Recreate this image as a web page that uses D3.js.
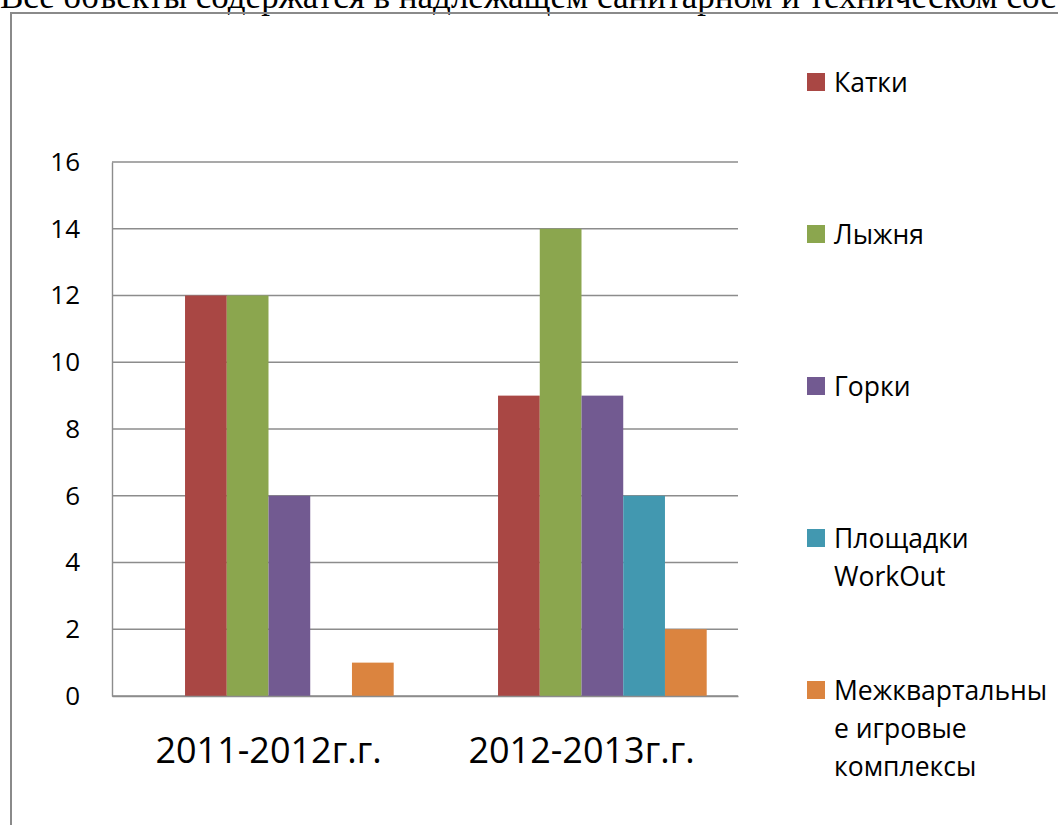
<!DOCTYPE html>
<html>
<head>
<meta charset="utf-8">
<script src="https://cdnjs.cloudflare.com/ajax/libs/d3/7.8.5/d3.min.js"></script>
<style>
  body { margin: 0; background: #fff; }
  svg { display: block; }
</style>
</head>
<body>
<script>
// периоды и значения
const periods = ['2011-2012г.г.', '2012-2013г.г.'];
const seriesNames = ['Катки', 'Лыжня', 'Горки', 'Площадки WorkOut', 'Межквартальные игровые комплексы'];
const legendLines = [['Катки'], ['Лыжня'], ['Горки'], ['Площадки', 'WorkOut'], ['Межквартальны', 'е игровые', 'комплексы']];
const katki = [12, 9];
const lyzhnya = [12, 14];
const gorki = [6, 9];
const workout = [0, 6];
const kompleksy = [1, 2];
const yTicks = [0, 2, 4, 6, 8, 10, 12, 14, 16];
// в исходной диаграмме первый ряд пустой, он занимает место в группе
const slots = ['', ...seriesNames];

const colors = ['#a94744', '#8ba64e', '#725a91', '#4298b0', '#db843f'];
const values = [katki, lyzhnya, gorki, workout, kompleksy];

const W = 1058, H = 825;
const margin = { top: 162, left: 112, right: 320, bottom: 129 };
const width = W - margin.left - margin.right;
const height = H - margin.top - margin.bottom;

const svg = d3.select('body').append('svg')
	.attr('width', W)
	.attr('height', H);

svg.append('rect').attr('width', W).attr('height', H).attr('fill', '#fff');

// текст над рамкой (в оригинале обрезан сверху)
svg.append('text')
	.attr('x', 0)
	.attr('y', 8)
	.style('font-family', '"Liberation Serif", "Times New Roman", serif')
	.style('font-size', '35px')
	.attr('fill', '#000')
	.text('Все объекты содержатся в надлежащем санитарном и техническом состоянии.');

// рамка
svg.append('rect')
	.attr('x', 11)
	.attr('y', 13)
	.attr('width', W)
	.attr('height', H)
	.attr('fill', 'none')
	.attr('stroke', '#8a8a8a')
	.attr('stroke-width', 2);

const g = svg.append('g')
	.attr('transform', 'translate(' + margin.left + ',' + margin.top + ')');

const x0 = d3.scaleBand().domain(periods).range([0, width]).paddingInner(0).paddingOuter(0);
const barW = x0.bandwidth() / (slots.length + 1.5);
const x1 = d3.scaleBand().domain(slots)
	.range([barW * 0.75, x0.bandwidth() - barW * 0.75]);
const y = d3.scaleLinear().domain([0, 16]).range([height, 0]);

// сетка
g.selectAll('.grid').data(yTicks).enter().append('line')
	.attr('class', 'grid')
	.attr('x1', 0).attr('x2', width)
	.attr('y1', d => y(d)).attr('y2', d => y(d))
	.attr('stroke', '#8c8c8c')
	.attr('stroke-width', 1.4);

// столбцы
seriesNames.forEach(function(name, i) {
	g.selectAll('.bar' + i).data(values[i]).enter().append('rect')
		.attr('class', 'bar' + i)
		.attr('x', (d, j) => x0(periods[j]) + x1(name))
		.attr('y', d => y(d))
		.attr('width', x1.bandwidth())
		.attr('height', d => y(0) - y(d))
		.attr('fill', colors[i]);
});

// ось Y
const yAxis = d3.axisLeft(y).tickValues(yTicks).tickSize(0).tickPadding(32);
const ya = g.append('g').call(yAxis);
ya.select('.domain').attr('stroke', '#8c8c8c').attr('stroke-width', 1.4);
ya.selectAll('text')
	.style('font-family', '"Open Sans", sans-serif')
	.style('font-size', '26px')
	.attr('fill', '#000');

// ось X
const xAxis = d3.axisBottom(x0).tickSize(0).tickPadding(41);
const xa = g.append('g').attr('transform', 'translate(0,' + height + ')').call(xAxis);
xa.select('.domain').attr('stroke', '#8c8c8c').attr('stroke-width', 1.4);
xa.selectAll('text')
	.style('font-family', '"Open Sans", sans-serif')
	.style('font-size', '36px')
	.attr('fill', '#000');

// легенда
const legend = svg.append('g').attr('transform', 'translate(807,82)');
legendLines.forEach(function(lines, i) {
	const item = legend.append('g').attr('transform', 'translate(0,' + (i * 152) + ')');
	item.append('rect')
		.attr('x', 0).attr('y', -9)
		.attr('width', 18).attr('height', 18)
		.attr('fill', colors[i]);
	item.selectAll('text').data(lines).enter().append('text')
		.attr('x', 27)
		.attr('y', (d, k) => k * 38)
		.attr('dy', '0.36em')
		.style('font-family', '"Open Sans", sans-serif')
		.style('font-size', '26.5px')
		.attr('fill', '#000')
		.text(d => d);
});
</script>
</body>
</html>
